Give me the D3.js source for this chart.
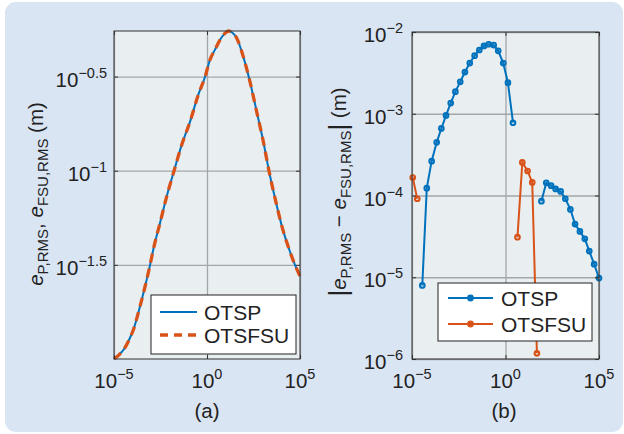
<!DOCTYPE html>
<html>
<head>
<meta charset="utf-8">
<script src="https://cdn.jsdelivr.net/npm/d3@7"></script>
<style>
  body { margin: 0; background: #fff; }
  svg { display: block; font-family: "Liberation Sans", Arial, Helvetica, sans-serif; }
</style>
</head>
<body>
<svg id="svg" width="624" height="434"></svg>
<script>
let svg = d3.select("#svg");

const blue = "#0072bd";
const orange = "#d95319";
const textColor = "#222";

// all values are log10 exponents
const xTicksExp = [-5, 0, 5];
const leftYTicksExp = [-1.5, -1, -0.5];
const rightYTicksExp = [-6, -5, -4, -3, -2];

// (a) RMS error curves
const rmsLogX = [-5.0, -4.7, -4.41, -4.2, -3.96, -3.6, -3.33, -3.06, -2.89, -2.53, -2.17, -1.77,
  -1.36, -0.91, -0.47, -0.1, 0.16, 0.43, 0.70, 0.95, 1.14, 1.35, 1.60, 1.95, 2.31, 2.67, 3.03,
  3.33, 3.66, 4.01, 4.37, 4.73, 5.0];
const otspRmsLogY = [-2.0, -1.975, -1.94, -1.9, -1.845, -1.72, -1.615, -1.5, -1.42, -1.279, -1.138, -1.0,
  -0.863, -0.739, -0.597, -0.5, -0.411, -0.357, -0.305, -0.272, -0.258, -0.266, -0.296, -0.394, -0.527,
  -0.686, -0.846, -1.0, -1.147, -1.289, -1.404, -1.50, -1.56];
// the two curves overlap completely at this scale
const otsfsuRmsLogY = otspRmsLogY.slice();

// (b) absolute difference, two runs per series (gaps where the difference vanishes)
const otspDiffX1 = [-4.45, -4.21, -3.95, -3.68, -3.43, -3.18, -2.93, -2.68, -2.42, -2.17, -1.91,
  -1.65, -1.40, -1.15, -0.90, -0.63, -0.39, -0.12, 0.13, 0.40];
const otspDiffY1 = [-5.10, -3.91, -3.58, -3.35, -3.18, -3.02, -2.87, -2.73, -2.61, -2.49, -2.38,
  -2.29, -2.22, -2.17, -2.15, -2.16, -2.23, -2.38, -2.62, -3.11];
const otspDiffX2 = [1.92, 2.18, 2.44, 2.68, 2.95, 3.20, 3.47, 3.72, 3.98, 4.24, 4.48, 4.74, 5.0];
const otspDiffY2 = [-4.07, -3.845, -3.88, -3.92, -3.95, -4.04, -4.17, -4.35, -4.44, -4.53, -4.68, -4.84, -5.01];
const otsfsuDiffX1 = [-4.96, -4.72];
const otsfsuDiffY1 = [-3.78, -4.04];
const otsfsuDiffX2 = [0.64, 0.90, 1.18, 1.43, 1.68];
const otsfsuDiffY2 = [-4.51, -3.595, -3.70, -3.84, -5.93];

function zip(xs, ys) { return xs.map((x, i) => [x, ys[i]]); }

function expText(e) { return e < 0 ? "\u2212" + Math.abs(e) : String(e); }

function powLabel(t, e) {
    t.append("tspan").text("10");
    t.append("tspan").attr("dy", -9).attr("font-size", 14.5).text(expText(e));
}

// light blue panel behind everything
svg.append("rect")
    .attr("x", 5).attr("y", 2).attr("width", 618).attr("height", 430)
    .attr("rx", 11).attr("fill", "#dae5f3");

function drawAxes(g, x, y, yTicks, yLabelRight) {
    let [x0, x1] = x.range();
    let [y1, y0] = y.range();

    g.append("rect")
        .attr("x", x0).attr("y", y0).attr("width", x1 - x0).attr("height", y1 - y0)
        .attr("fill", "#e9eef0");

    // grid
    g.append("g").attr("transform", `translate(0,${y1})`)
        .call(d3.axisBottom(x).tickValues(xTicksExp).tickSize(-(y1 - y0)).tickFormat(""))
        .call(s => s.select(".domain").remove())
        .selectAll("line").attr("stroke", "#a4a7a9").attr("stroke-width", 1.3);
    g.append("g").attr("transform", `translate(${x0},0)`)
        .call(d3.axisLeft(y).tickValues(yTicks).tickSize(-(x1 - x0)).tickFormat(""))
        .call(s => s.select(".domain").remove())
        .selectAll("line").attr("stroke", "#a4a7a9").attr("stroke-width", 1.3);

    // tick labels
    g.selectAll(".xlab").data(xTicksExp).join("text")
        .attr("x", d => x(d)).attr("y", 388)
        .attr("text-anchor", "middle").attr("font-size", 20.5).attr("fill", textColor)
        .each(function(d) { powLabel(d3.select(this), d); });
    g.selectAll(".ylab").data(yTicks).join("text")
        .attr("x", yLabelRight).attr("y", d => y(d) + 10)
        .attr("text-anchor", "end").attr("font-size", 20.5).attr("fill", textColor)
        .each(function(d) { powLabel(d3.select(this), d); });
}

function drawBox(g, x, y, yTicks) {
    let [x0, x1] = x.range();
    let [y1, y0] = y.range();
    let box = g.append("g");
    // inward ticks on all four sides
    box.append("g").attr("transform", `translate(0,${y1})`)
        .call(d3.axisBottom(x).tickValues(xTicksExp).tickSize(-4).tickFormat(""));
    box.append("g").attr("transform", `translate(0,${y0})`)
        .call(d3.axisTop(x).tickValues(xTicksExp).tickSize(-4).tickFormat(""));
    box.append("g").attr("transform", `translate(${x0},0)`)
        .call(d3.axisLeft(y).tickValues(yTicks).tickSize(-4).tickFormat(""));
    box.append("g").attr("transform", `translate(${x1},0)`)
        .call(d3.axisRight(y).tickValues(yTicks).tickSize(-4).tickFormat(""));
    box.selectAll(".domain").remove();
    box.selectAll(".tick line").attr("stroke", "#333");
    box.append("rect")
        .attr("x", x0).attr("y", y0).attr("width", x1 - x0).attr("height", y1 - y0)
        .attr("fill", "none").attr("stroke", "#333").attr("stroke-width", 1);
}

// ---------- panel (a) ----------
let ga = svg.append("g");
let xa = d3.scaleLinear().domain([-5, 5]).range([114, 300]);
let ya = d3.scaleLinear().domain([-2.0, -0.258]).range([359, 31]);
drawAxes(ga, xa, ya, leftYTicksExp, 107);

let lineA = d3.line().x(d => xa(d[0])).y(d => ya(d[1])).curve(d3.curveMonotoneX);
ga.append("path").datum(zip(rmsLogX, otspRmsLogY))
    .attr("d", lineA).attr("fill", "none").attr("stroke", blue).attr("stroke-width", 2);
ga.append("path").datum(zip(rmsLogX, otsfsuRmsLogY))
    .attr("d", lineA).attr("fill", "none").attr("stroke", orange)
    .attr("stroke-width", 3.3).attr("stroke-dasharray", "9,6");
drawBox(ga, xa, ya, leftYTicksExp);

// legend (a)
let la = ga.append("g");
la.append("rect").attr("x", 151).attr("y", 295).attr("width", 145).attr("height", 59)
    .attr("fill", "#fff").attr("stroke", "#222").attr("stroke-width", 1);
la.append("line").attr("x1", 160).attr("x2", 197).attr("y1", 312).attr("y2", 312)
    .attr("stroke", blue).attr("stroke-width", 2);
la.append("line").attr("x1", 160).attr("x2", 197).attr("y1", 335).attr("y2", 335)
    .attr("stroke", orange).attr("stroke-width", 3.3).attr("stroke-dasharray", "8,6");
la.selectAll("text").data(["OTSP", "OTSFSU"]).join("text")
    .attr("x", 204).attr("y", (d, i) => 319.5 + i * 23)
    .attr("font-size", 21).attr("fill", textColor).text(d => d);

// y label (a)
let yla = ga.append("text").attr("transform", "translate(43,194) rotate(-90)")
    .attr("text-anchor", "middle").attr("font-size", 20.5).attr("fill", textColor);
yla.append("tspan").attr("font-style", "italic").text("e");
yla.append("tspan").attr("font-size", 15).attr("dy", 5).text("P,RMS");
yla.append("tspan").attr("dy", -5).text(", ");
yla.append("tspan").attr("font-style", "italic").text("e");
yla.append("tspan").attr("font-size", 15).attr("dy", 5).text("FSU,RMS");
yla.append("tspan").attr("dy", -5).text(" (m)");

ga.append("text").attr("x", 207).attr("y", 418).attr("text-anchor", "middle")
    .attr("font-size", 20.5).attr("fill", textColor).text("(a)");

// ---------- panel (b) ----------
let gb = svg.append("g");
let xb = d3.scaleLinear().domain([-5, 5]).range([412, 599]);
let yb = d3.scaleLinear().domain([-6, -2]).range([359, 32]);
drawAxes(gb, xb, yb, rightYTicksExp, 403);

let lineB = d3.line().x(d => xb(d[0])).y(d => yb(d[1]));
const diffRuns = [
    { color: orange, pts: zip(otsfsuDiffX1, otsfsuDiffY1) },
    { color: orange, pts: zip(otsfsuDiffX2, otsfsuDiffY2) },
    { color: blue, pts: zip(otspDiffX1, otspDiffY1) },
    { color: blue, pts: zip(otspDiffX2, otspDiffY2) }
];
for (let run of diffRuns) {
    gb.append("path").datum(run.pts).attr("d", lineB)
        .attr("fill", "none").attr("stroke", run.color).attr("stroke-width", 2);
    gb.selectAll(null).data(run.pts).join("circle")
        .attr("cx", d => xb(d[0])).attr("cy", d => yb(d[1])).attr("r", 2.3)
        .attr("fill", "none").attr("stroke", run.color).attr("stroke-width", 2.1);
}
drawBox(gb, xb, yb, rightYTicksExp);

// legend (b)
let lb = gb.append("g");
lb.append("rect").attr("x", 438).attr("y", 283).attr("width", 154).attr("height", 58)
    .attr("fill", "#fff").attr("stroke", "#222").attr("stroke-width", 1);
[blue, orange].forEach((c, i) => {
    let yy = 298 + i * 26;
    lb.append("line").attr("x1", 448).attr("x2", 493).attr("y1", yy).attr("y2", yy)
        .attr("stroke", c).attr("stroke-width", 2);
    lb.append("circle").attr("cx", 470.5).attr("cy", yy).attr("r", 2.8)
        .attr("fill", c).attr("stroke", c).attr("stroke-width", 1.2);
});
lb.selectAll("text").data(["OTSP", "OTSFSU"]).join("text")
    .attr("x", 501).attr("y", (d, i) => 305.5 + i * 26)
    .attr("font-size", 21).attr("fill", textColor).text(d => d);

// y label (b)
let ylb = gb.append("text").attr("transform", "translate(346,192) rotate(-90)")
    .attr("text-anchor", "middle").attr("font-size", 20.5).attr("fill", textColor);
ylb.append("tspan").attr("font-size", 26).attr("dy", 1).text("|");
ylb.append("tspan").attr("font-style", "italic").attr("dy", -1).text("e");
ylb.append("tspan").attr("font-size", 15).attr("dy", 5).text("P,RMS");
ylb.append("tspan").attr("dy", -5).text(" \u2212 ");
ylb.append("tspan").attr("font-style", "italic").text("e");
ylb.append("tspan").attr("font-size", 15).attr("dy", 5).text("FSU,RMS");
ylb.append("tspan").attr("font-size", 26).attr("dy", -4).text("|");
ylb.append("tspan").attr("dy", -1).text(" (m)");

gb.append("text").attr("x", 504).attr("y", 418).attr("text-anchor", "middle")
    .attr("font-size", 20.5).attr("fill", textColor).text("(b)");
</script>
</body>
</html>
